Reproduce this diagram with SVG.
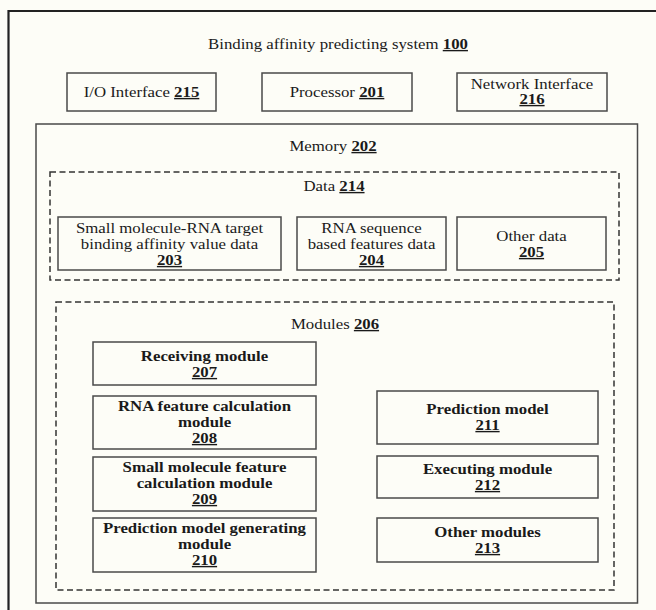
<svg xmlns="http://www.w3.org/2000/svg" width="656" height="610" viewBox="0 0 656 610">
<style>
text{font-family:"Liberation Serif","Times New Roman",serif;font-size:14px;fill:#1a1a1a;text-anchor:middle}
.b{font-weight:bold}
.u{font-weight:bold;text-decoration:underline}
.box{fill:none;stroke:#4a4a4a;stroke-width:1.5}
.dash{fill:none;stroke:#333;stroke-width:1.5;stroke-dasharray:6 3.5}
</style>
<rect x="0" y="0" width="656" height="610" fill="#fdfdf7"/>
<g id="system">
<path d="M8.5 612 V11 H660" fill="none" stroke="#222" stroke-width="2.2"/>
<text transform="translate(338 49) scale(1.2 1)">Binding affinity predicting system <tspan class="u">100</tspan></text>
</g>
<g id="io"><rect class="box" x="67" y="73" width="149" height="38"/><text transform="translate(141.5 97) scale(1.2 1)">I/O Interface <tspan class="u">215</tspan></text></g>
<g id="processor"><rect class="box" x="262" y="73" width="150" height="38"/><text transform="translate(337 97) scale(1.2 1)">Processor <tspan class="u">201</tspan></text></g>
<g id="network"><rect class="box" x="457" y="73" width="150" height="38"/><text transform="translate(532 89) scale(1.2 1)">Network Interface</text><text transform="translate(532 104) scale(1.2 1)"><tspan class="u">216</tspan></text></g>
<g id="memory"><rect class="box" x="36" y="124" width="601.5" height="479" stroke-width="1.3"/><text transform="translate(333 151) scale(1.2 1)">Memory <tspan class="u">202</tspan></text></g>
<g id="data"><rect class="dash" x="50" y="172" width="569" height="108"/><text transform="translate(334 191) scale(1.2 1)">Data <tspan class="u">214</tspan></text></g>
<g id="d203"><rect class="box" x="58" y="217" width="223" height="53"/><text transform="translate(169.5 233) scale(1.2 1)">Small molecule-RNA target</text><text transform="translate(169.5 249) scale(1.2 1)">binding affinity value data</text><text transform="translate(169.5 265) scale(1.2 1)"><tspan class="u">203</tspan></text></g>
<g id="d204"><rect class="box" x="297" y="217" width="149" height="53"/><text transform="translate(371.5 233) scale(1.2 1)">RNA sequence</text><text transform="translate(371.5 249) scale(1.2 1)">based features data</text><text transform="translate(371.5 265) scale(1.2 1)"><tspan class="u">204</tspan></text></g>
<g id="d205"><rect class="box" x="457" y="217" width="149" height="53"/><text transform="translate(531.5 241) scale(1.2 1)">Other data</text><text transform="translate(531.5 257) scale(1.2 1)"><tspan class="u">205</tspan></text></g>
<g id="modules"><rect class="dash" x="56" y="302" width="558" height="288"/><text transform="translate(335 329) scale(1.2 1)">Modules <tspan class="u">206</tspan></text></g>
<g id="m207"><rect class="box" x="93" y="342" width="223" height="43"/><text class="b" transform="translate(204.5 361) scale(1.2 1)">Receiving module</text><text transform="translate(204.5 377) scale(1.2 1)"><tspan class="u">207</tspan></text></g>
<g id="m208"><rect class="box" x="93" y="396" width="223" height="53"/><text class="b" transform="translate(204.5 411) scale(1.2 1)">RNA feature calculation</text><text class="b" transform="translate(204.5 427) scale(1.2 1)">module</text><text transform="translate(204.5 443) scale(1.2 1)"><tspan class="u">208</tspan></text></g>
<g id="m209"><rect class="box" x="93" y="457" width="223" height="54"/><text class="b" transform="translate(204.5 472) scale(1.2 1)">Small molecule feature</text><text class="b" transform="translate(204.5 488) scale(1.2 1)">calculation module</text><text transform="translate(204.5 504) scale(1.2 1)"><tspan class="u">209</tspan></text></g>
<g id="m210"><rect class="box" x="93" y="518" width="223" height="54"/><text class="b" transform="translate(204.5 533) scale(1.2 1)">Prediction model generating</text><text class="b" transform="translate(204.5 549) scale(1.2 1)">module</text><text transform="translate(204.5 565) scale(1.2 1)"><tspan class="u">210</tspan></text></g>
<g id="m211"><rect class="box" x="377" y="391" width="221" height="53"/><text class="b" transform="translate(487.5 414) scale(1.2 1)">Prediction model</text><text transform="translate(487.5 430) scale(1.2 1)"><tspan class="u">211</tspan></text></g>
<g id="m212"><rect class="box" x="377" y="456" width="221" height="42"/><text class="b" transform="translate(487.5 474) scale(1.2 1)">Executing module</text><text transform="translate(487.5 490) scale(1.2 1)"><tspan class="u">212</tspan></text></g>
<g id="m213"><rect class="box" x="377" y="518" width="221" height="44"/><text class="b" transform="translate(487.5 537) scale(1.2 1)">Other modules</text><text transform="translate(487.5 553) scale(1.2 1)"><tspan class="u">213</tspan></text></g>
<g id="connectors"></g>
</svg>
